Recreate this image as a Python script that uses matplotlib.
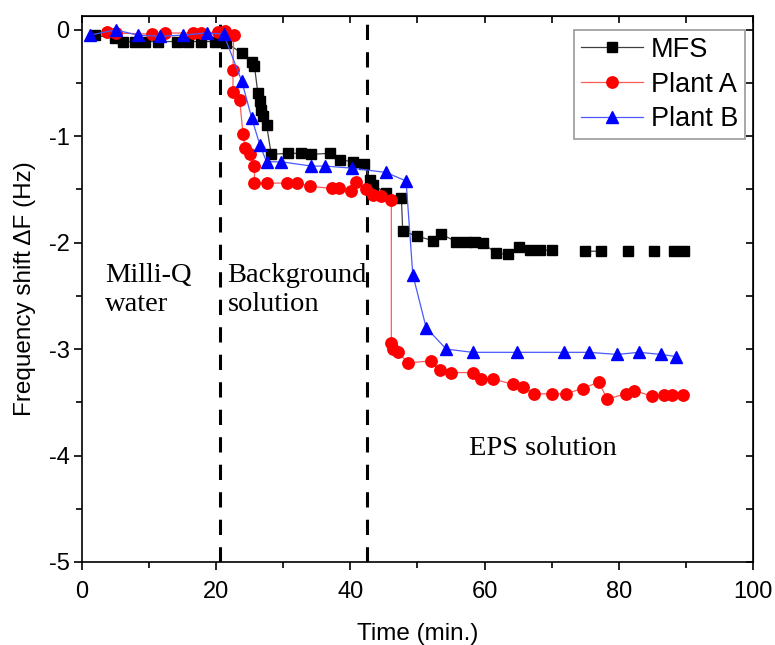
import numpy as np
import matplotlib
matplotlib.use("Agg")
import matplotlib.pyplot as plt

nan = np.nan

# MFS frequency shift over time (NaN breaks the connecting line)
mfs_t = [1.9, 4.9, 6.1, 7.9, 9.4, 11.3, 14.1, 15.8, 17.8, 19.8, 21.5,
         23.8, 25.3, 25.7, 26.2, 26.5, 26.7, 27.0, 27.5, 28.2, 30.7, 32.7,
         34.2, 36.9, 38.4, 40.4, 42.1, 42.9, 43.4, 45.3, 47.6, 47.8, 50.0,
         52.3, 53.5, 55.8, 57.3, 58.5, 59.7, 61.7, 63.5, 65.2, 66.8, 68.3,
         70.1, nan, 74.9, 77.3, nan, 81.3, nan, 85.3, nan, 88.2, 89.7]
mfs_f = [-0.05, -0.08, -0.11, -0.11, -0.11, -0.11, -0.11, -0.11, -0.11, -0.11, -0.12,
         -0.22, -0.30, -0.34, -0.59, -0.67, -0.75, -0.81, -0.89, -1.17, -1.16, -1.16,
         -1.17, -1.16, -1.22, -1.24, -1.26, -1.41, -1.46, -1.53, -1.58, -1.89, -1.94,
         -1.98, -1.92, -1.99, -1.99, -1.99, -2.00, -2.10, -2.11, -2.04, -2.07, -2.07,
         -2.07, nan, -2.08, -2.08, nan, -2.08, nan, -2.08, nan, -2.08, -2.08]

# Plant A
pa_t = [3.7, 5.0, 10.4, 12.3, 16.5, 17.7, 20.3, 21.3, 22.6, 22.5, 22.5, 23.5,
        24.0, 24.3, 25.1, 25.7, 25.7, 27.5, 30.5, 32.0, 34.0, 37.2, 38.3, 40.1,
        40.9, 42.4, 43.4, 44.6, 46.1, 46.1, 46.4, 47.1, 48.6, 52.0, 53.3, 55.0,
        58.2, 59.5, 61.2, 64.2, 65.7, 67.4, 70.1, 72.1, 74.6, 77.0, 78.3, 81.0,
        82.3, 84.9, 86.8, 88.0, 89.5]
pa_f = [-0.02, -0.03, -0.04, -0.03, -0.03, -0.03, -0.02, -0.01, -0.05, -0.38, -0.58, -0.66,
        -0.98, -1.11, -1.17, -1.28, -1.44, -1.44, -1.44, -1.44, -1.47, -1.49, -1.49, -1.51,
        -1.43, -1.50, -1.55, -1.56, -1.60, -2.94, -3.00, -3.03, -3.13, -3.11, -3.20, -3.22,
        -3.22, -3.28, -3.28, -3.33, -3.36, -3.42, -3.42, -3.42, -3.37, -3.31, -3.47, -3.42,
        -3.39, -3.44, -3.43, -3.43, -3.43]

# Plant B
pb_t = [1.2, 5.0, 8.3, 11.6, 15.0, 18.6, 21.1, 23.8, 25.3, 26.5, 27.5, 29.7,
        34.2, 36.2, 40.3, 45.3, 48.3, 49.3, 51.3, 54.3, 58.2, 64.9, 71.9, 75.5,
        79.8, 83.0, 86.3, 88.6]
pb_f = [-0.05, 0.00, -0.05, -0.06, -0.05, -0.03, -0.04, -0.48, -0.83, -1.08, -1.24, -1.24,
        -1.28, -1.28, -1.30, -1.34, -1.42, -2.30, -2.80, -3.00, -3.03, -3.03, -3.03, -3.03,
        -3.05, -3.03, -3.05, -3.07]

# stage boundaries (min)
boundaries = [20.5, 42.5]

stage_labels = ["Milli-Q\nwater", "Background\nsolution", "EPS solution"]
stage_pos = [(3.4, -2.19), (21.7, -2.19), (57.7, -3.93)]

plt.rcParams['font.family'] = ['Liberation Sans', 'DejaVu Sans']
plt.rcParams['axes.unicode_minus'] = False

fig = plt.figure(figsize=(7.75, 6.45), dpi=100)
ax = fig.add_axes([0.1058, 0.1287, 0.8658, 0.8465])

for b in boundaries:
    ax.axvline(b, color='black', lw=2.2, ls=(0, (5.0, 4.0)), zorder=1)

ax.plot(mfs_t, mfs_f, color='#404040', lw=0.9, marker='s', ms=7.2,
        mfc='black', mec='black', label='MFS', zorder=3)
ax.plot(pa_t, pa_f, color='#ff5a5a', lw=0.9, marker='o', ms=8.2,
        mfc='#ff0000', mec='#ff0000', label='Plant A', zorder=4)
ax.plot(pb_t, pb_f, color='#4a5aff', lw=0.9, marker='^', ms=9.2,
        mfc='#0000ff', mec='#0000ff', label='Plant B', zorder=5)

serif = dict(family='Liberation Serif', fontsize=20.5)
ax.text(*stage_pos[0], stage_labels[0], va='top', ha='left', linespacing=1.2, **serif)
ax.text(*stage_pos[1], stage_labels[1], va='top', ha='left', linespacing=1.2, **serif)
ax.text(*stage_pos[2], stage_labels[2], va='center', ha='left', **serif)

ax.set_xlim(0, 100)
ax.set_ylim(-5, 0.13)
ax.set_xticks(np.arange(0, 101, 20))
ax.set_xticks(np.arange(0, 101, 10), minor=True)
ax.set_yticks(np.arange(-5, 0.5, 1))
ax.set_yticks(np.arange(-5, 0.5, 0.5), minor=True)

for s in ax.spines.values():
    s.set_linewidth(1.2)
ax.tick_params(which='major', direction='out', length=6, width=1.2, labelsize=17)
ax.tick_params(which='minor', direction='out', length=4, width=1.2)
ax.tick_params(axis='x', which='major', pad=8)
ax.tick_params(axis='y', which='major', pad=3)

# mirrored inward ticks on the top and right edges
top = ax.secondary_xaxis('top')
top.set_xticks(np.arange(0, 101, 20))
top.set_xticks(np.arange(0, 101, 10), minor=True)
top.tick_params(which='both', direction='in', length=5, width=1.2, labeltop=False)
right = ax.secondary_yaxis('right')
right.set_yticks(np.arange(-5, 0.5, 1))
right.set_yticks(np.arange(-5, 0.5, 0.5), minor=True)
right.tick_params(which='both', direction='in', length=5, width=1.2, labelright=False)

ax.set_xlabel('Time (min.)', fontsize=17.5, labelpad=14)
ax.set_ylabel('Frequency shift \u0394F (Hz)', fontsize=17.5, labelpad=9)

leg = ax.legend(loc='upper right', bbox_to_anchor=(0.988, 0.974), borderaxespad=0,
                fontsize=19.5, frameon=True, fancybox=False, edgecolor='#808080',
                handlelength=2.3, handletextpad=0.3, labelspacing=0.32,
                borderpad=0.25)
leg.get_frame().set_linewidth(1.2)

fig.savefig('out.png', dpi=100)
